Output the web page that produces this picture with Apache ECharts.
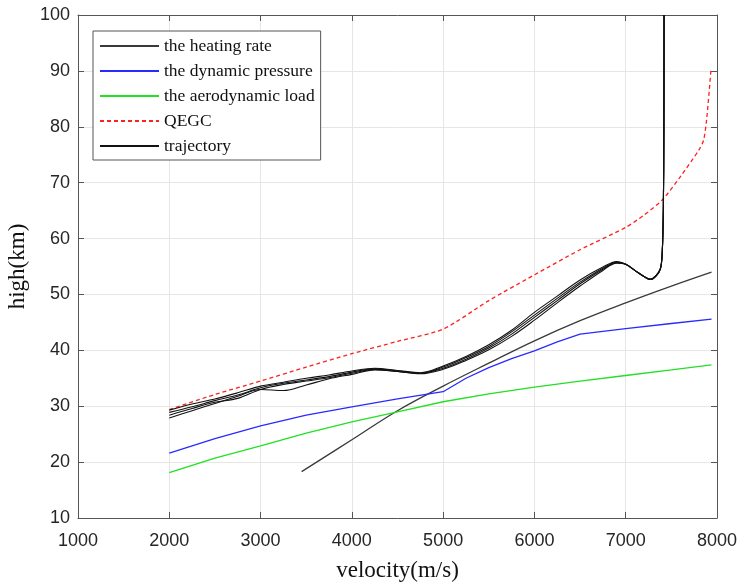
<!DOCTYPE html>
<html>
<head>
<meta charset="utf-8">
<title>high vs velocity</title>
<script src="https://cdn.jsdelivr.net/npm/echarts@6/dist/echarts.min.js"></script>
<style>
  html, body { margin: 0; padding: 0; background: #ffffff; }
  #chart { width: 737px; height: 583px; }
</style>
</head>
<body>
<div id="chart"></div>
<script>
// Heating-rate constraint boundary
const heatVel  = [3450, 4000, 4500, 5000, 5500, 6000, 6500, 7000, 7500, 7940];
const heatHigh = [18.3, 24.0, 29.2, 33.6, 37.7, 41.7, 45.3, 48.5, 51.5, 54.0];

// Dynamic-pressure constraint boundary
const dynVel  = [2000, 2500, 3000, 3500, 4000, 4500, 5000, 5250, 5500, 5750, 6000, 6250, 6500, 7000, 7500, 7940];
const dynHigh = [21.6, 24.2, 26.5, 28.4, 29.9, 31.3, 32.6, 35.0, 36.9, 38.5, 39.9, 41.5, 42.9, 43.9, 44.8, 45.6];

// Aerodynamic-load constraint boundary
const loadVel  = [2000, 2500, 3000, 3500, 4000, 4500, 5000, 5500, 6000, 6500, 7000, 7500, 7940];
const loadHigh = [18.1, 20.7, 22.9, 25.2, 27.2, 29.0, 30.8, 32.2, 33.4, 34.5, 35.5, 36.5, 37.4];

// Quasi-equilibrium glide condition
const qegcVel  = [2000, 2500, 3000, 3500, 4000, 4500, 5000, 5500, 6000, 6500, 7000, 7200, 7400, 7600, 7800, 7853, 7886, 7933];
const qegcHigh = [29.4, 32.1, 34.5, 37.0, 39.4, 41.6, 43.8, 48.9, 53.5, 58.0, 62.0, 64.2, 66.9, 71.1, 75.8, 77.6, 81.2, 90.0];

// Trajectories: low-speed part differs, high-speed part shared
const trajVel   = [2000, 2250, 2500, 2750, 3000, 3250, 3500, 3750, 4000, 4250, 4500, 4750, 5000, 5250, 5500, 5750, 6000, 6250, 6500, 6750, 6900];
const trajHigh1 = [29.3, 30.4, 31.3, 32.4, 33.6, 34.3, 35.0, 35.6, 36.3, 36.8, 36.4, 36.0, 37.2, 38.9, 41.0, 43.6, 46.8, 49.7, 52.6, 54.9, 55.9];
const trajHigh2 = [28.9, 29.9, 31.0, 32.0, 33.3, 34.1, 34.7, 35.3, 36.1, 36.7, 36.3, 35.9, 37.0, 38.7, 40.7, 43.3, 46.3, 49.3, 52.2, 54.7, 55.8];
const trajHigh3 = [28.4, 29.6, 30.7, 31.4, 33.0, 33.9, 34.5, 35.1, 35.9, 36.6, 36.2, 35.9, 36.8, 38.4, 40.4, 42.9, 45.9, 48.9, 51.9, 54.5, 55.7];
const trajHigh4 = [27.9, 29.2, 30.5, 31.8, 33.0, 32.8, 33.8, 34.9, 35.7, 36.5, 36.2, 35.8, 36.6, 38.2, 40.1, 42.5, 45.4, 48.5, 51.5, 54.3, 55.6];
const tailVel   = [7000, 7100, 7200, 7270, 7330, 7380, 7400, 7412, 7418, 7420];
const tailHigh  = [55.4, 54.3, 53.2, 52.7, 53.3, 54.6, 57.5, 65.0, 80.0, 100.0];

const pairs = (xs, ys) => xs.map((x, i) => [x, ys[i]]);
const trajectory = (ys) => pairs(trajVel.concat(tailVel), ys.concat(tailHigh));

const serif = '"Liberation Serif", "Times New Roman", serif';
const sans = '"Liberation Sans", Arial, sans-serif';
const axisGray = '#555555';

function valueAxis(extra) {
  return Object.assign({
    type: 'value',
    axisLine: { show: true, onZero: false, lineStyle: { color: axisGray, width: 1 } },
    axisTick: { show: true, inside: true, length: 6, lineStyle: { color: axisGray } },
    axisLabel: { show: false },
    splitLine: { show: false }
  }, extra);
}

const xRange = { min: 1000, max: 8000, interval: 1000 };
const yRange = { min: 10, max: 100, interval: 10 };

function lineSeries(name, data, color, width, extra) {
  return Object.assign({
    name: name,
    type: 'line',
    data: data,
    symbol: 'none',
    showSymbol: false,
    smooth: false,
    lineStyle: { color: color, width: width },
    itemStyle: { color: color },
    emphasis: { disabled: true }
  }, extra || {});
}

const chart = echarts.init(document.getElementById('chart'), null, { renderer: 'canvas' });
chart.setOption({
  animation: false,
  backgroundColor: '#ffffff',
  grid: { left: 78, right: 20, top: 15, bottom: 65, containLabel: false, outerBoundsMode: 'none' },
  legend: {
    orient: 'vertical',
    left: 93,
    top: 31,
    padding: [6, 6, 5, 6],
    itemWidth: 59,
    itemHeight: 14,
    itemGap: 7,
    borderColor: '#555555',
    borderWidth: 1,
    backgroundColor: '#ffffff',
    itemStyle: { opacity: 0, borderWidth: 0 },
    textStyle: { fontFamily: serif, fontSize: 17.5, color: '#111111', lineHeight: 14 },
    data: ['the heating rate', 'the dynamic pressure', 'the aerodynamic load', 'QEGC', 'trajectory']
  },
  xAxis: [
    valueAxis(Object.assign({
      position: 'bottom',
      name: 'velocity(m/s)',
      nameLocation: 'middle',
      nameGap: 41,
      nameTextStyle: { fontFamily: serif, fontSize: 23, color: '#111111' },
      axisLabel: { show: true, margin: 14, fontFamily: sans, fontSize: 18, color: '#262626',
                   formatter: (v) => String(v) },
      splitLine: { show: true, lineStyle: { color: '#e6e6e6', width: 1 } }
    }, xRange)),
    valueAxis(Object.assign({ position: 'top' }, xRange))
  ],
  yAxis: [
    valueAxis(Object.assign({
      position: 'left',
      name: 'high(km)',
      nameLocation: 'middle',
      nameGap: 48,
      nameRotate: 90,
      nameTextStyle: { fontFamily: serif, fontSize: 23, color: '#111111' },
      axisLabel: { show: true, margin: 8, fontFamily: sans, fontSize: 18, color: '#262626',
                   formatter: (v) => String(v) },
      splitLine: { show: true, lineStyle: { color: '#e6e6e6', width: 1 } }
    }, yRange)),
    valueAxis(Object.assign({ position: 'right' }, yRange))
  ],
  series: [
    lineSeries('the heating rate', pairs(heatVel, heatHigh), '#3a3a3a', 1.3, { smooth: 0.4 }),
    lineSeries('the dynamic pressure', pairs(dynVel, dynHigh), '#2a2aff', 1.3),
    lineSeries('the aerodynamic load', pairs(loadVel, loadHigh), '#22e022', 1.3),
    lineSeries('QEGC', pairs(qegcVel, qegcHigh), '#ff2020', 1.3, {
      smooth: 0.25,
      lineStyle: { color: '#ff2020', width: 1.3, type: [4, 3] }
    }),
    lineSeries('trajectory', trajectory(trajHigh1), '#111111', 1.1, { smooth: 0.35 }),
    lineSeries('trajectory', trajectory(trajHigh2), '#111111', 1.1, { smooth: 0.35 }),
    lineSeries('trajectory', trajectory(trajHigh3), '#111111', 1.1, { smooth: 0.35 }),
    lineSeries('trajectory', trajectory(trajHigh4), '#111111', 1.1, { smooth: 0.35 })
  ]
});
</script>
</body>
</html>
